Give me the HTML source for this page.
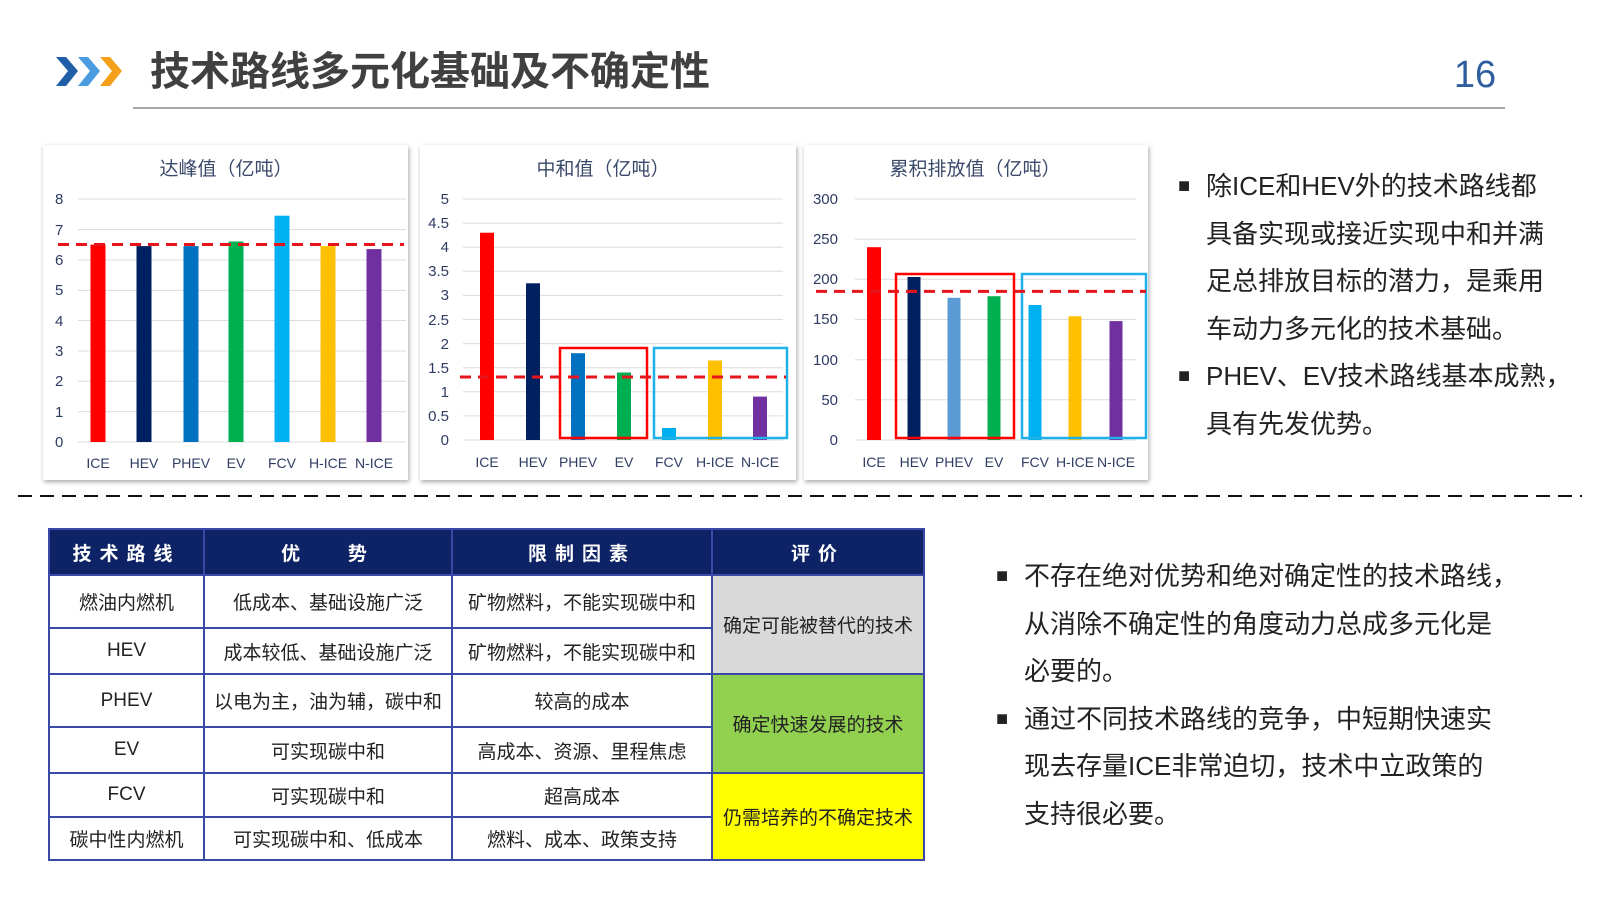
<!DOCTYPE html>
<html><head><meta charset="utf-8"><style>
body{margin:0;width:1600px;height:900px;background:#fff;position:relative;overflow:hidden;font-family:"Liberation Sans","Noto Sans CJK SC",sans-serif;}
svg{position:absolute;left:0;top:0}
table{position:absolute;left:48px;top:528px;width:877px;border-collapse:collapse;font-family:"Liberation Sans","Noto Sans CJK SC",sans-serif;font-size:19px;color:#222;}
td,th{border:2px solid #3a48a8;text-align:center;padding:0;}
th{background:#0d2366;color:#fff;font-size:19px;font-weight:bold;height:44px;letter-spacing:8px;}
.t{position:absolute;font-size:26px;color:#222;line-height:47.6px;font-family:"Liberation Sans","Noto Sans CJK SC",sans-serif;}
.t div{position:relative;padding-left:0}
</style></head><body>
<svg width="1600" height="900" xmlns="http://www.w3.org/2000/svg" font-family="Liberation Sans, Noto Sans CJK SC, sans-serif">
<defs><filter id="sh" x="-5%" y="-5%" width="110%" height="110%"><feDropShadow dx="1" dy="2" stdDeviation="2.5" flood-color="#000" flood-opacity="0.35"/></filter></defs>
<polygon points="56,57 66,57 78,71 66,86 56,86 68,71" fill="#1f5fa8"/>
<polygon points="78,57 88,57 100,71 88,86 78,86 90,71" fill="#4a9be0"/>
<polygon points="100,57 110,57 122,71 110,86 100,86 112,71" fill="#f5a01a"/>
<text x="150" y="85" font-size="40" font-weight="bold" fill="#404040">技术路线多元化基础及不确定性</text>
<line x1="133" y1="108" x2="1505" y2="108" stroke="#8a8a8a" stroke-width="1.5"/>
<text x="1475" y="87" font-size="38" fill="#2e5e9e" text-anchor="middle" font-weight="normal">16</text>
<line x1="18" y1="496" x2="1582" y2="496" stroke="#111" stroke-width="2" stroke-dasharray="14,8"/>
<rect x="43" y="145" width="365" height="335" fill="#fff" filter="url(#sh)"/>
<rect x="420" y="145" width="376" height="335" fill="#fff" filter="url(#sh)"/>
<rect x="804" y="145" width="344" height="335" fill="#fff" filter="url(#sh)"/>
<g fill="#3b4a6b">
<text x="226" y="175" font-size="19" text-anchor="middle">达峰值（亿吨）</text>
<text x="603" y="175" font-size="19" text-anchor="middle">中和值（亿吨）</text>
<text x="975" y="175" font-size="19" text-anchor="middle">累积排放值（亿吨）</text>
</g>
<g stroke="#dcdcdc" stroke-width="1">
<line x1="78" x2="406" y1="199" y2="199"/><line x1="78" x2="406" y1="229.6" y2="229.6"/><line x1="78" x2="406" y1="260" y2="260"/><line x1="78" x2="406" y1="290.4" y2="290.4"/><line x1="78" x2="406" y1="320.5" y2="320.5"/><line x1="78" x2="406" y1="351" y2="351"/><line x1="78" x2="406" y1="381.3" y2="381.3"/><line x1="78" x2="406" y1="411.6" y2="411.6"/><line x1="78" x2="406" y1="442" y2="442"/>
</g>
<g font-size="15" fill="#2f3d63">
<text x="55" y="204">8</text><text x="55" y="235">7</text><text x="55" y="265">6</text><text x="55" y="295">5</text><text x="55" y="326">4</text><text x="55" y="356">3</text><text x="55" y="386">2</text><text x="55" y="417">1</text><text x="55" y="447">0</text>
</g>
<rect x="90.5" y="244.6" width="15" height="197.4" fill="#ff0000"/>
<rect x="136.5" y="246.1" width="15" height="195.9" fill="#002060"/>
<rect x="183.5" y="246.1" width="15" height="195.9" fill="#0070c0"/>
<rect x="228.5" y="241.5" width="15" height="200.5" fill="#00b050"/>
<rect x="274.5" y="215.7" width="15" height="226.3" fill="#00b0f0"/>
<rect x="320.5" y="246.1" width="15" height="195.9" fill="#ffc000"/>
<rect x="366.5" y="249.1" width="15" height="192.9" fill="#7030a0"/>
<line x1="58" x2="404" y1="244.5" y2="244.5" stroke="#e8141b" stroke-width="3" stroke-dasharray="11,7"/>
<g font-size="14" fill="#2f3d63" text-anchor="middle">
<text x="98" y="468">ICE</text><text x="144" y="468">HEV</text><text x="191" y="468">PHEV</text><text x="236" y="468">EV</text><text x="282" y="468">FCV</text><text x="328" y="468">H-ICE</text><text x="374" y="468">N-ICE</text>
</g>
<g stroke="#dcdcdc" stroke-width="1">
<line x1="463" x2="783" y1="199" y2="199"/><line x1="463" x2="783" y1="223.1" y2="223.1"/><line x1="463" x2="783" y1="247.2" y2="247.2"/><line x1="463" x2="783" y1="271.3" y2="271.3"/><line x1="463" x2="783" y1="295.4" y2="295.4"/><line x1="463" x2="783" y1="319.5" y2="319.5"/><line x1="463" x2="783" y1="343.6" y2="343.6"/><line x1="463" x2="783" y1="367.7" y2="367.7"/><line x1="463" x2="783" y1="391.8" y2="391.8"/><line x1="463" x2="783" y1="415.9" y2="415.9"/><line x1="463" x2="783" y1="440" y2="440"/>
</g>
<g font-size="15" fill="#2f3d63" text-anchor="end">
<text x="449" y="204">5</text><text x="449" y="228">4.5</text><text x="449" y="252">4</text><text x="449" y="276">3.5</text><text x="449" y="300">3</text><text x="449" y="325">2.5</text><text x="449" y="349">2</text><text x="449" y="373">1.5</text><text x="449" y="397">1</text><text x="449" y="421">0.5</text><text x="449" y="445">0</text>
</g>
<rect x="480" y="232.7" width="14" height="207.3" fill="#ff0000"/>
<rect x="526" y="283.3" width="14" height="156.7" fill="#002060"/>
<rect x="571" y="353.2" width="14" height="86.8" fill="#0070c0"/>
<rect x="617" y="372.5" width="14" height="67.5" fill="#00b050"/>
<rect x="662" y="428" width="14" height="12" fill="#00b0f0"/>
<rect x="708" y="360.5" width="14" height="79.5" fill="#ffc000"/>
<rect x="753" y="396.6" width="14" height="43.4" fill="#7030a0"/>
<rect x="560" y="348" width="87" height="90" fill="none" stroke="#ff0000" stroke-width="2.5"/>
<rect x="654" y="348" width="133" height="90" fill="none" stroke="#1fb0e8" stroke-width="2.5"/>
<line x1="460" x2="786" y1="377" y2="377" stroke="#e8141b" stroke-width="3" stroke-dasharray="11,7"/>
<g font-size="14" fill="#2f3d63" text-anchor="middle">
<text x="487" y="467">ICE</text><text x="533" y="467">HEV</text><text x="578" y="467">PHEV</text><text x="624" y="467">EV</text><text x="669" y="467">FCV</text><text x="715" y="467">H-ICE</text><text x="760" y="467">N-ICE</text>
</g>
<g stroke="#dcdcdc" stroke-width="1">
<line x1="855" x2="1136" y1="199" y2="199"/><line x1="855" x2="1136" y1="239.2" y2="239.2"/><line x1="855" x2="1136" y1="279.3" y2="279.3"/><line x1="855" x2="1136" y1="319.5" y2="319.5"/><line x1="855" x2="1136" y1="359.7" y2="359.7"/><line x1="855" x2="1136" y1="399.8" y2="399.8"/><line x1="855" x2="1136" y1="440" y2="440"/>
</g>
<g font-size="15" fill="#2f3d63" text-anchor="end">
<text x="838" y="204">300</text><text x="838" y="244">250</text><text x="838" y="284">200</text><text x="838" y="324">150</text><text x="838" y="365">100</text><text x="838" y="405">50</text><text x="838" y="445">0</text>
</g>
<rect x="867" y="247.2" width="14" height="192.8" fill="#ff0000"/>
<rect x="907.5" y="277" width="13" height="163" fill="#002060"/>
<rect x="947.5" y="297.8" width="13" height="142.2" fill="#5b9bd5"/>
<rect x="987.5" y="296.2" width="13" height="143.8" fill="#00b050"/>
<rect x="1028.5" y="305" width="13" height="135" fill="#00b0f0"/>
<rect x="1068.5" y="316.3" width="13" height="123.7" fill="#ffc000"/>
<rect x="1109.5" y="321.1" width="13" height="118.9" fill="#7030a0"/>
<rect x="896" y="274" width="118" height="164" fill="none" stroke="#ff0000" stroke-width="2.5"/>
<rect x="1022" y="274" width="124" height="164" fill="none" stroke="#1fb0e8" stroke-width="2.5"/>
<line x1="816" x2="1146" y1="291.4" y2="291.4" stroke="#e8141b" stroke-width="3" stroke-dasharray="11,7"/>
<g font-size="14" fill="#2f3d63" text-anchor="middle">
<text x="874" y="467">ICE</text><text x="914" y="467">HEV</text><text x="954" y="467">PHEV</text><text x="994" y="467">EV</text><text x="1035" y="467">FCV</text><text x="1075" y="467">H-ICE</text><text x="1116" y="467">N-ICE</text>
</g>
</svg>
<div class="t" style="left:1178px;top:163px;width:420px;">
<div><span style="position:absolute;left:0;font-size:20px">■</span><span style="padding-left:28px">除ICE和HEV外的技术路线都</span></div>
<div style="padding-left:28px">具备实现或接近实现中和并满</div>
<div style="padding-left:28px">足总排放目标的潜力，是乘用</div>
<div style="padding-left:28px">车动力多元化的技术基础。</div>
<div><span style="position:absolute;left:0;font-size:20px">■</span><span style="padding-left:28px">PHEV、EV技术路线基本成熟，</span></div>
<div style="padding-left:28px">具有先发优势。</div>
</div>
<div class="t" style="left:996px;top:553px;width:580px;">
<div><span style="position:absolute;left:0;font-size:20px">■</span><span style="padding-left:28px">不存在绝对优势和绝对确定性的技术路线，</span></div>
<div style="padding-left:28px">从消除不确定性的角度动力总成多元化是</div>
<div style="padding-left:28px">必要的。</div>
<div><span style="position:absolute;left:0;font-size:20px">■</span><span style="padding-left:28px">通过不同技术路线的竞争，中短期快速实</span></div>
<div style="padding-left:28px">现去存量ICE非常迫切，技术中立政策的</div>
<div style="padding-left:28px">支持很必要。</div>
</div>
<table>
<tr><th style="width:153px">技术路线</th><th style="width:246px">优&nbsp;&nbsp;&nbsp;势</th><th style="width:258px">限制因素</th><th>评价</th></tr>
<tr style="height:53px"><td>燃油内燃机</td><td>低成本、基础设施广泛</td><td>矿物燃料，不能实现碳中和</td><td rowspan="2" style="background:#d9d9d9">确定可能被替代的技术</td></tr>
<tr style="height:46px"><td>HEV</td><td>成本较低、基础设施广泛</td><td>矿物燃料，不能实现碳中和</td></tr>
<tr style="height:53px"><td>PHEV</td><td>以电为主，油为辅，碳中和</td><td>较高的成本</td><td rowspan="2" style="background:#92d050">确定快速发展的技术</td></tr>
<tr style="height:46px"><td>EV</td><td>可实现碳中和</td><td>高成本、资源、里程焦虑</td></tr>
<tr style="height:44px"><td>FCV</td><td>可实现碳中和</td><td>超高成本</td><td rowspan="2" style="background:#ffff00">仍需培养的不确定技术</td></tr>
<tr style="height:43px"><td>碳中性内燃机</td><td>可实现碳中和、低成本</td><td>燃料、成本、政策支持</td></tr>
</table>
</body></html>
